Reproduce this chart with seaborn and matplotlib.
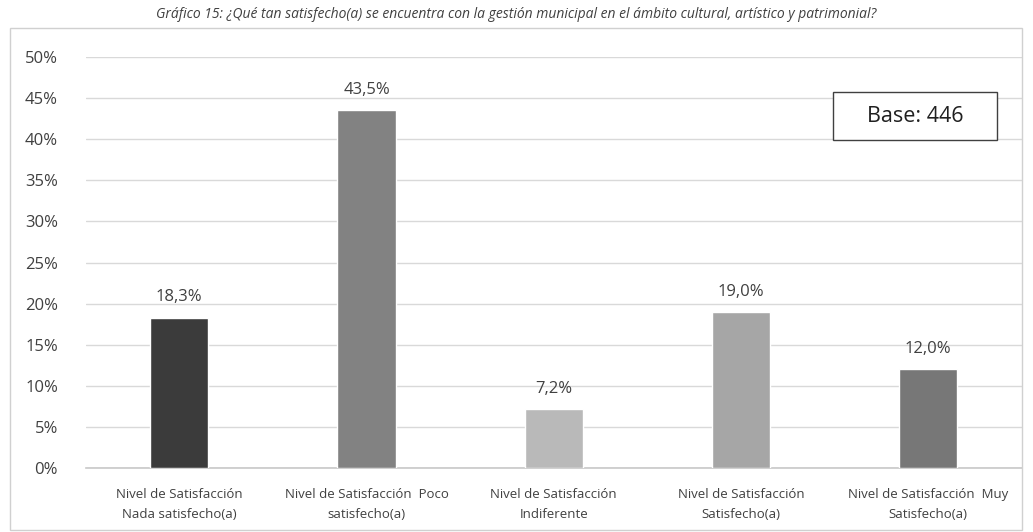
import matplotlib
matplotlib.use("Agg")
import matplotlib.pyplot as plt
from matplotlib.patches import Rectangle
import pandas as pd
import seaborn as sns

categorias = [
    "Nivel de Satisfacción\nNada satisfecho(a)",
    "Nivel de Satisfacción  Poco\nsatisfecho(a)",
    "Nivel de Satisfacción\nIndiferente",
    "Nivel de Satisfacción\nSatisfecho(a)",
    "Nivel de Satisfacción  Muy\nSatisfecho(a)",
]
porcentajes = [18.3, 43.5, 7.2, 19.0, 12.0]
etiquetas = ["18,3%", "43,5%", "7,2%", "19,0%", "12,0%"]
colores = ["#3b3b3b", "#828282", "#b9b9b9", "#a6a6a6", "#777777"]
ticks_y = [0, 5, 10, 15, 20, 25, 30, 35, 40, 45, 50]
titulo = ("Gráfico 15: ¿Qué tan satisfecho(a) se encuentra con la gestión municipal "
          "en el ámbito cultural, artístico y patrimonial?")
base_texto = "Base: 446"

sns.set_style("white")
fuente = ["Liberation Sans Narrow", "Open Sans", "DejaVu Sans"]
plt.rcParams["font.family"] = fuente

df = pd.DataFrame({"cat": categorias, "val": porcentajes})

fig = plt.figure(figsize=(10.33, 5.32), dpi=100)
ax = fig.add_axes([0.083, 0.120, 0.906, 0.773])

# marco exterior
fig.patches.append(Rectangle((0.010, 0.004), 0.979, 0.943, transform=fig.transFigure,
                             fill=False, edgecolor="#d0d0d0", linewidth=1.0))

sns.barplot(data=df, x="cat", y="val", hue="cat", palette=colores, legend=False,
            width=0.31, ax=ax, zorder=3)

ax.set_ylim(0, 50)
ax.set_yticks(ticks_y)
ax.set_yticklabels([f"{t}%" for t in ticks_y], fontsize=12, color="#404040")
ax.tick_params(axis="y", length=0, pad=20)
ax.tick_params(axis="x", length=0, pad=14)
for lbl in ax.get_xticklabels():
    lbl.set_fontsize(9.5)
    lbl.set_color("#404040")
    lbl.set_linespacing(1.7)
ax.set_xlabel("")
ax.set_ylabel("")
ax.grid(axis="y", color="#d9d9d9", linewidth=1.0, zorder=0)
for s in ["top", "right", "left"]:
    ax.spines[s].set_visible(False)
ax.spines["bottom"].set_color("#c8c8c8")
ax.spines["bottom"].set_linewidth(1.2)

for i, (v, t) in enumerate(zip(porcentajes, etiquetas)):
    ax.text(i, v + 1.5, t, ha="center", va="bottom", fontsize=12, color="#404040")

fig.text(0.5, 0.972, titulo, ha="center", va="center", fontsize=10, style="italic",
         color="#404040")

# recuadro "Base"
ax.add_patch(Rectangle((0.798, 0.798), 0.176, 0.117, transform=ax.transAxes,
                       facecolor="white", edgecolor="#404040", linewidth=1.0, zorder=5))
ax.text(0.886, 0.856, base_texto, transform=ax.transAxes, ha="center", va="center",
        fontsize=15.5, color="#202020", zorder=6)

fig.savefig("out.png", dpi=100)
